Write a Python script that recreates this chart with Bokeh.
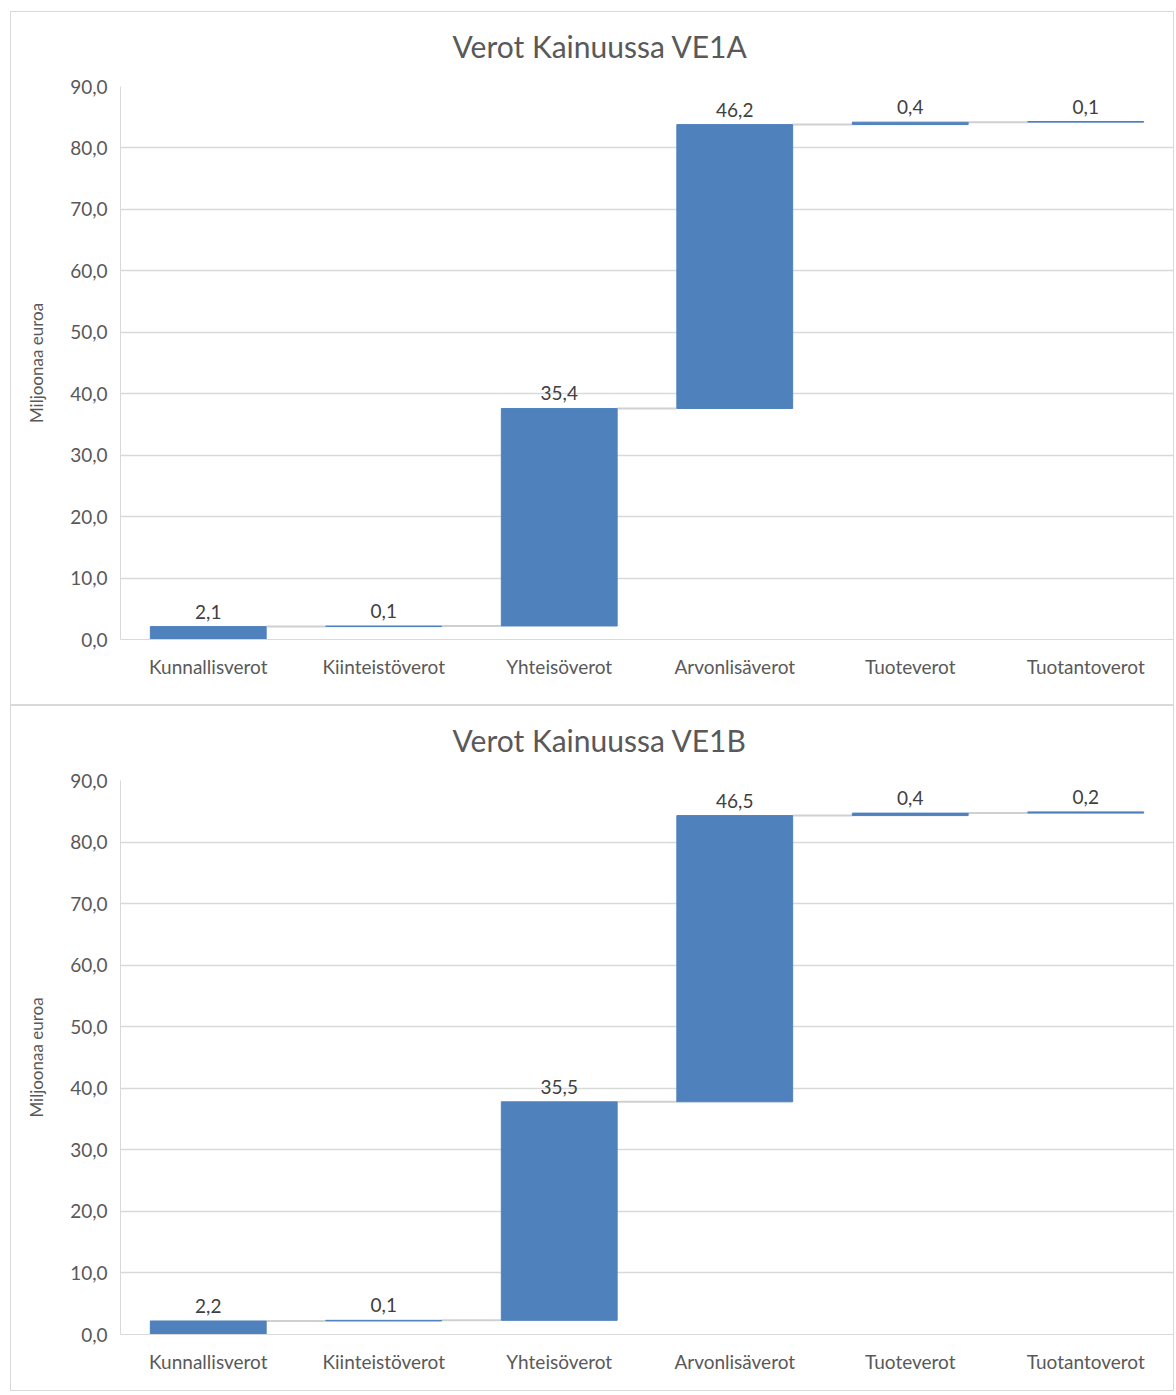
from bokeh.plotting import figure
from bokeh.models import Range1d, FixedTicker, ColumnDataSource, InlineStyleSheet, Title
from bokeh.layouts import column
from bokeh.embed import file_html
from bokeh.resources import INLINE
from bokeh.core.properties import value
import numpy as np

categories = ["Kunnallisverot", "Kiinteistöverot", "Yhteisöverot",
              "Arvonlisäverot", "Tuoteverot", "Tuotantoverot"]
values_ve1a = [2.1, 0.1, 35.4, 46.2, 0.4, 0.1]
values_ve1b = [2.2, 0.1, 35.5, 46.5, 0.4, 0.2]
titles = ["Verot Kainuussa VE1A", "Verot Kainuussa VE1B"]
y_ticks = [0, 10, 20, 30, 40, 50, 60, 70, 80, 90]
y_tick_labels = ["0,0", "10,0", "20,0", "30,0", "40,0", "50,0", "60,0", "70,0", "80,0", "90,0"]
y_axis_label = "Miljoonaa euroa"

FONT = "Lato"
BAR = "#4F81BD"
GRID = "#d9d9d9"
TXT = "#595959"
border_css = InlineStyleSheet(css=":host { border: 1px solid #d9d9d9; }")


def fmt(v):
    return f"{v:.1f}".replace(".", ",")


def make(title, vals, height, bborder, margin):
    n = len(categories)
    x = np.arange(n) + 0.5
    vals = np.array(vals)
    tops = np.cumsum(vals)
    bottoms = tops - vals
    p = figure(width=1164, height=height, x_range=Range1d(0, n), y_range=Range1d(0, 90),
               output_backend="svg", toolbar_location=None,
               min_border_left=109, min_border_right=2, min_border_top=74,
               min_border_bottom=bborder, stylesheets=[border_css])
    p.margin = margin
    p.outline_line_color = None
    p.background_fill_color = "white"
    p.border_fill_color = "white"

    # spacer (closest to frame) then the title
    p.add_layout(Title(text=" ", standoff=8, text_font_size="1px"), "above")
    p.add_layout(Title(text=title, align="left", offset=332, standoff=24,
                       text_font=FONT, text_font_size="30px", text_font_style="normal",
                       text_color=TXT), "above")

    # connectors
    bw = 0.66
    p.segment(x0=x[:-1] + bw / 2, x1=x[1:] - bw / 2, y0=tops[:-1], y1=tops[:-1],
              line_color="#d0d0d0", line_width=2)

    src = ColumnDataSource(dict(x=x, top=tops, bottom=bottoms,
                                lab=[fmt(v) for v in vals]))
    p.vbar(x="x", top="top", bottom="bottom", width=bw, source=src,
           fill_color=BAR, line_color=BAR, line_width=1)
    p.text(x="x", y="top", text="lab", source=src, y_offset=-8,
           text_align="center", text_baseline="bottom",
           text_font=value(FONT), text_font_size="19px", text_color="#404040")

    # axes
    p.xaxis.ticker = FixedTicker(ticks=list(x))
    p.xaxis.major_label_overrides = {float(xi): c for xi, c in zip(x, categories)}
    p.yaxis.ticker = FixedTicker(ticks=y_ticks)
    p.yaxis.major_label_overrides = {t: l for t, l in zip(y_ticks, y_tick_labels)}
    for ax in (p.xaxis[0], p.yaxis[0]):
        ax.major_tick_in = 0
        ax.major_tick_out = 0
        ax.minor_tick_in = 0
        ax.minor_tick_out = 0
        ax.axis_line_color = GRID
        ax.major_label_text_font = FONT
        ax.major_label_text_font_size = "19px"
        ax.major_label_text_color = TXT
    p.xaxis.major_label_standoff = 15
    p.yaxis.major_label_standoff = 13
    p.yaxis.axis_label = y_axis_label
    p.yaxis.axis_label_text_font = FONT
    p.yaxis.axis_label_text_font_size = "17px"
    p.yaxis.axis_label_text_font_style = "normal"
    p.yaxis.axis_label_text_color = TXT
    p.yaxis.axis_label_standoff = 20

    p.xgrid.grid_line_color = None
    p.ygrid.ticker = FixedTicker(ticks=y_ticks)
    p.ygrid.grid_line_color = GRID
    p.ygrid.grid_line_width = 1.5
    return p


p1 = make(titles[0], values_ve1a, 694, 67, (11, 0, 0, 10))
p2 = make(titles[1], values_ve1b, 686, 58, (0, 0, 0, 10))
layout = column(p1, p2, spacing=0)

open("out.html", "w").write(file_html(layout, INLINE))
